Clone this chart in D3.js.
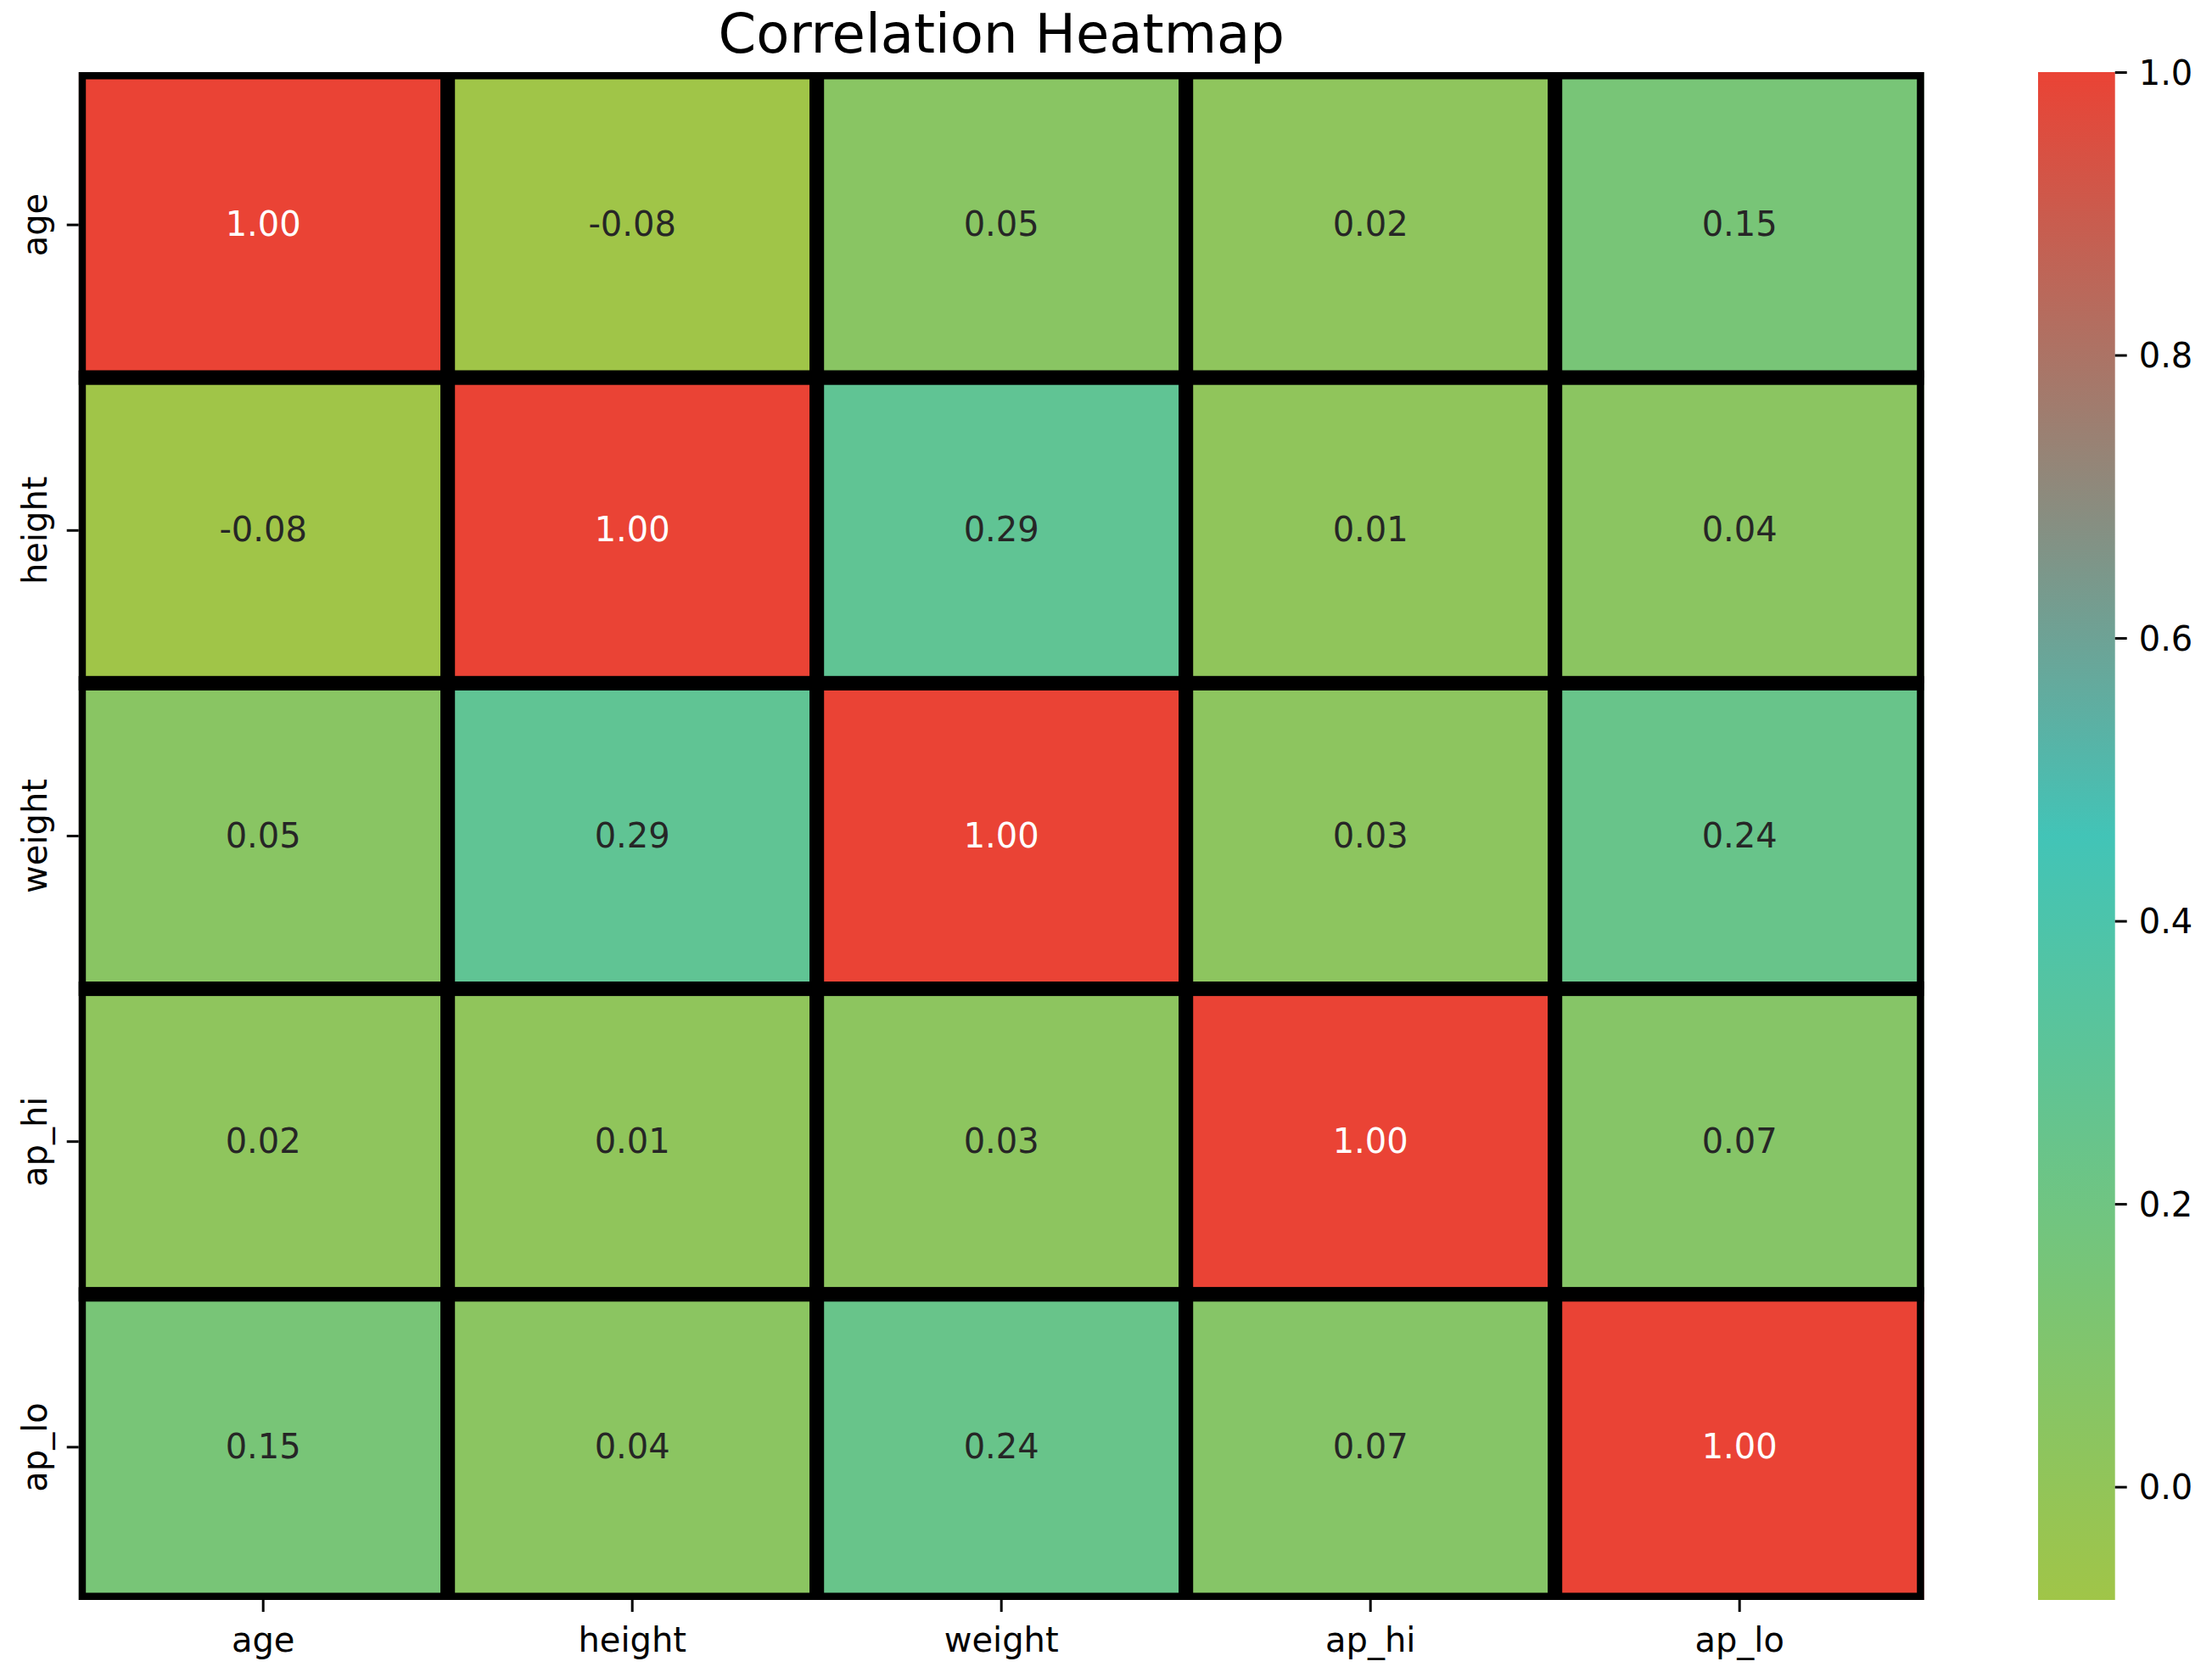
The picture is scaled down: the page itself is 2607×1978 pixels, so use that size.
<!DOCTYPE html>
<html>
<head>
<meta charset="utf-8">
<script src="https://cdn.jsdelivr.net/npm/d3@7"></script>
<style>
  body { margin: 0; background: #fff; }
  text { font-family: "DejaVu Sans", sans-serif; }
</style>
</head>
<body>
<div id="chart"></div>
<script>
// variables and their correlation values
const variables = ["age", "height", "weight", "ap_hi", "ap_lo"];
const ageRow    = [1.00, -0.08, 0.05, 0.02, 0.15];
const heightRow = [-0.08, 1.00, 0.29, 0.01, 0.04];
const weightRow = [0.05, 0.29, 1.00, 0.03, 0.24];
const apHiRow   = [0.02, 0.01, 0.03, 1.00, 0.07];
const apLoRow   = [0.15, 0.04, 0.24, 0.07, 1.00];
const matrix = [ageRow, heightRow, weightRow, apHiRow, apLoRow];
const colorbarTicks = [0.0, 0.2, 0.4, 0.6, 0.8, 1.0];
const paletteColors = ["#a0c548", "#42c4b7", "#ea4335"];

// dimensions
const width = 2607, height = 1978;
const plot = { left: 92.7, top: 85, right: 2267.7, bottom: 1886 };
const cbar = { left: 2402, right: 2492.7 };
const fontSize = 40;

// flatten for the cells
const cells = [];
matrix.forEach((row, i) => row.forEach((v, j) => cells.push({ row: variables[i], col: variables[j], value: v })));

// scales
const x = d3.scaleBand().domain(variables).range([plot.left, plot.right]);
const y = d3.scaleBand().domain(variables).range([plot.top, plot.bottom]);
const [vmin, vmax] = d3.extent(cells, d => d.value);
const color = d3.scaleLinear()
    .domain([vmin, (vmin + vmax) / 2, vmax])
    .range(paletteColors)
    .interpolate(d3.interpolateRgb);

// text colour like seaborn: dark on light cells, white on dark ones
function textColor(c) {
  const rgb = d3.rgb(c);
  const lin = v => { v /= 255; return v <= 0.03928 ? v / 12.92 : Math.pow((v + 0.055) / 1.055, 2.4); };
  const l = 0.2126 * lin(rgb.r) + 0.7152 * lin(rgb.g) + 0.0722 * lin(rgb.b);
  return l > 0.408 ? "#262626" : "#ffffff";
}

const svg = d3.select("#chart").append("svg").attr("width", width).attr("height", height);
svg.append("rect").attr("width", width).attr("height", height).attr("fill", "#fff");

svg.append("clipPath").attr("id", "plotClip")
  .append("rect")
    .attr("x", plot.left).attr("y", plot.top)
    .attr("width", plot.right - plot.left).attr("height", plot.bottom - plot.top);

// cells
svg.append("g").attr("clip-path", "url(#plotClip)")
  .selectAll("rect")
  .data(cells)
  .join("rect")
    .attr("x", d => x(d.col))
    .attr("y", d => y(d.row))
    .attr("width", x.bandwidth())
    .attr("height", y.bandwidth())
    .attr("fill", d => color(d.value))
    .attr("stroke", "#000")
    .attr("stroke-width", 17);

// annotations (plain hyphen for negatives, like matplotlib's annot)
svg.append("g")
  .selectAll("text")
  .data(cells)
  .join("text")
    .attr("x", d => x(d.col) + x.bandwidth() / 2)
    .attr("y", d => y(d.row) + y.bandwidth() / 2 + 13)
    .attr("text-anchor", "middle")
    .attr("font-size", fontSize)
    .attr("fill", d => textColor(color(d.value)))
    .text(d => d.value.toFixed(2));

// x axis
const xAxis = svg.append("g")
    .attr("transform", `translate(0,${plot.bottom})`)
    .call(d3.axisBottom(x).tickSize(14).tickPadding(0));
xAxis.select(".domain").remove();
xAxis.selectAll(".tick line").attr("stroke", "#000").attr("stroke-width", 3);
xAxis.selectAll(".tick text")
    .attr("font-size", fontSize).attr("fill", "#000")
    .attr("font-family", "DejaVu Sans")
    .attr("dy", null).attr("y", 61);

// y axis, labels rotated
const yAxis = svg.append("g")
    .attr("transform", `translate(${plot.left},0)`)
    .call(d3.axisLeft(y).tickSize(14));
yAxis.select(".domain").remove();
yAxis.selectAll(".tick line").attr("stroke", "#000").attr("stroke-width", 3);
yAxis.selectAll(".tick text")
    .attr("font-size", fontSize).attr("fill", "#000")
    .attr("font-family", "DejaVu Sans")
    .attr("x", null).attr("dy", null)
    .attr("text-anchor", "middle")
    .attr("transform", "translate(-38,0) rotate(-90)");

// title
svg.append("text")
    .attr("x", (plot.left + plot.right) / 2)
    .attr("y", 62)
    .attr("text-anchor", "middle")
    .attr("font-size", 64)
    .attr("fill", "#000")
    .text("Correlation Heatmap");

// colorbar
const cScale = d3.scaleLinear().domain([vmin, vmax]).range([plot.bottom, plot.top]);
const grad = svg.append("defs").append("linearGradient")
    .attr("id", "cbarGrad").attr("x1", 0).attr("y1", 1).attr("x2", 0).attr("y2", 0);
d3.range(0, 1.0001, 0.05).forEach(t => {
  grad.append("stop").attr("offset", t).attr("stop-color", color(vmin + t * (vmax - vmin)));
});
svg.append("rect")
    .attr("x", cbar.left).attr("y", plot.top)
    .attr("width", cbar.right - cbar.left).attr("height", plot.bottom - plot.top)
    .attr("fill", "url(#cbarGrad)");

const cAxis = svg.append("g")
    .attr("transform", `translate(${cbar.right},0)`)
    .call(d3.axisRight(cScale).tickValues(colorbarTicks).tickFormat(d3.format(".1f")).tickSize(14).tickPadding(14));
cAxis.select(".domain").remove();
cAxis.selectAll(".tick line").attr("stroke", "#000").attr("stroke-width", 3);
cAxis.selectAll(".tick text")
    .attr("font-size", fontSize).attr("fill", "#000")
    .attr("font-family", "DejaVu Sans")
    .attr("dy", "0.36em");
</script>
</body>
</html>
